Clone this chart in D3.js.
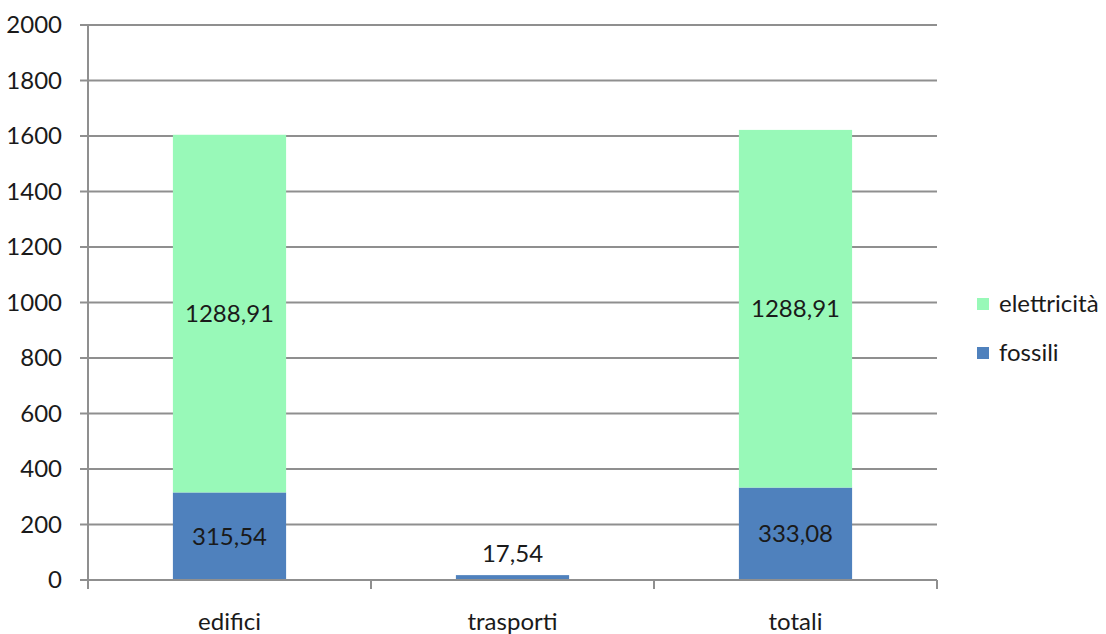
<!DOCTYPE html>
<html><head><meta charset="utf-8">
<script src="https://cdn.jsdelivr.net/npm/d3@7"></script>
<style>body{margin:0;background:#fff;overflow:hidden;} text{font-family:Lato,"Open Sans",sans-serif;}</style>
</head><body>
<svg id="c" width="1106" height="634"></svg>
<script>
const categories = ["edifici", "trasporti", "totali"];
const fossili = [315.54, 17.54, 333.08];
const elettricita = [1288.91, 0, 1288.91];
const fossiliLabels = ["315,54", "17,54", "333,08"];
const elettricitaLabels = ["1288,91", "", "1288,91"];
const yTicks = [0, 200, 400, 600, 800, 1000, 1200, 1400, 1600, 1800, 2000];
const seriesNames = ["elettricità", "fossili"];
const colors = {fossili: "#4F81BD", elettricita: "#98F9B8"};

const svg = d3.select("#c");
const L = 88, R = 937, T = 25, B = 580;
const x = d3.scaleBand().domain(categories).range([L, R]).paddingInner(0.6).paddingOuter(0.3);
const band = d3.scaleBand().domain(categories).range([L, R]);
const y = d3.scaleLinear().domain([0, 2000]).range([B, T]);
const font = "24px";
const txt = "#1a1a1a";

// gridlines
svg.append("g").selectAll("line").data(yTicks).join("line")
  .attr("x1", L - 8).attr("x2", R).attr("y1", d => y(d)).attr("y2", d => y(d))
  .attr("stroke", "#8f8f8f").attr("stroke-width", 2);
// y labels
svg.append("g").selectAll("text").data(yTicks).join("text")
  .attr("x", 62).attr("y", d => y(d)).attr("dy", "0.35em").attr("text-anchor", "end")
  .attr("font-size", font).attr("fill", txt).text(d => d);
// y axis
svg.append("line").attr("x1", L).attr("x2", L).attr("y1", T).attr("y2", B + 8)
  .attr("stroke", "#8f8f8f").attr("stroke-width", 2);
// x tick marks
const bounds = categories.map(c => band(c)).concat([R]);
svg.append("g").selectAll("line").data(bounds).join("line")
  .attr("x1", d => d).attr("x2", d => d).attr("y1", B).attr("y2", B + 9)
  .attr("stroke", "#8f8f8f").attr("stroke-width", 2);

// bars
const g = svg.append("g");
g.selectAll("rect.f").data(categories).join("rect").attr("class", "f")
  .attr("x", d => x(d)).attr("width", x.bandwidth())
  .attr("y", (d, i) => y(fossili[i])).attr("height", (d, i) => y(0) - y(fossili[i]))
  .attr("fill", colors.fossili);
g.selectAll("rect.e").data(categories).join("rect").attr("class", "e")
  .attr("x", d => x(d)).attr("width", x.bandwidth())
  .attr("y", (d, i) => y(fossili[i] + elettricita[i])).attr("height", (d, i) => y(fossili[i]) - y(fossili[i] + elettricita[i]))
  .attr("fill", colors.elettricita);
// x axis line on top
svg.append("line").attr("x1", L - 8).attr("x2", R).attr("y1", B).attr("y2", B)
  .attr("stroke", "#8f8f8f").attr("stroke-width", 2);

// value labels
g.selectAll("text.fl").data(categories).join("text").attr("class", "fl")
  .attr("x", d => x(d) + x.bandwidth() / 2)
  .attr("y", (d, i) => fossili[i] > 100 ? y(fossili[i] / 2) : y(fossili[i]) - 22)
  .attr("dy", "0.35em").attr("text-anchor", "middle").attr("font-size", font).attr("fill", txt)
  .text((d, i) => fossiliLabels[i]);
g.selectAll("text.el").data(categories).join("text").attr("class", "el")
  .attr("x", d => x(d) + x.bandwidth() / 2)
  .attr("y", (d, i) => y(fossili[i] + elettricita[i] / 2))
  .attr("dy", "0.35em").attr("text-anchor", "middle").attr("font-size", font).attr("fill", txt)
  .text((d, i) => elettricitaLabels[i]);

// category labels
svg.append("g").selectAll("text").data(categories).join("text")
  .attr("x", d => band(d) + band.bandwidth() / 2).attr("y", 630)
  .attr("text-anchor", "middle").attr("font-size", font).attr("fill", txt).text(d => d);

// legend
const leg = svg.append("g");
const legColors = [colors.elettricita, colors.fossili];
seriesNames.forEach((n, i) => {
  const ly = 304 + i * 49;
  leg.append("rect").attr("x", 977).attr("y", ly - 6).attr("width", 12).attr("height", 12).attr("fill", legColors[i]);
  leg.append("text").attr("x", 999).attr("y", ly).attr("dy", "0.35em").attr("font-size", font).attr("fill", txt).text(n);
});
</script>
</body></html>
